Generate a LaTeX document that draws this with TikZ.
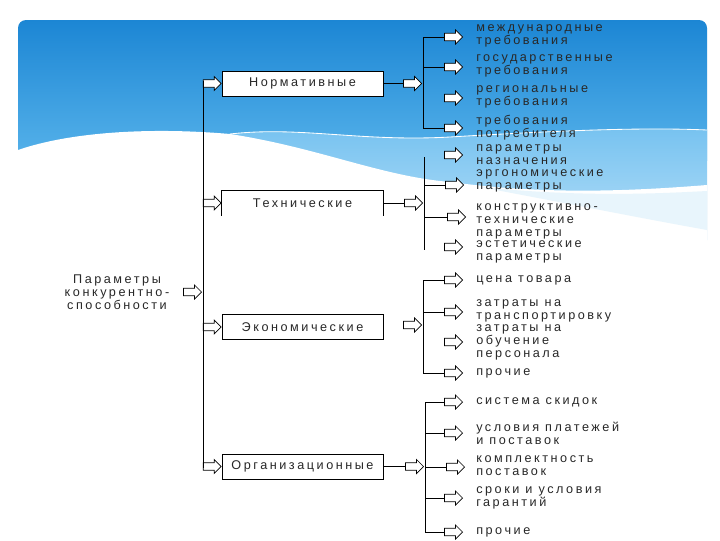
\documentclass[tikz,border=0pt]{standalone}
\usepackage{fontspec}
\newfontfamily\rusfont{Liberation Sans}[LetterSpace=20]
\usetikzlibrary{shapes.arrows}
\definecolor{skytop}{RGB}{28,134,212}
\definecolor{skybot}{RGB}{86,178,234}
\definecolor{bandtop}{RGB}{118,194,240}
\definecolor{bandbot}{RGB}{180,222,247}
\definecolor{haze}{RGB}{232,245,252}
\definecolor{ink}{RGB}{40,40,40}
\tikzstyle{category} = [rectangle, 
minimum width=4.025cm, 
minimum height=0.625cm, 
text centered, 
draw=black, 
fill=white,
text=ink,
font=\rusfont\fontsize{9}{9.3}\selectfont]
\tikzstyle{leaf} = [anchor=west, 
align=left, 
inner sep=0pt, 
text=ink,
font=\rusfont\fontsize{9}{9.3}\selectfont]
\tikzstyle{blk} = [single arrow, 
draw=black, 
fill=white, 
line width=0.5pt,
inner xsep=0pt, 
inner ysep=0.085cm,
single arrow head extend=0.08cm,
minimum height=0.45cm,
anchor=tip]
\tikzstyle{link} = [line width=0.6pt]

\begin{document}
\begin{tikzpicture}[x=0.025cm, y=-0.025cm]
            \useasboundingbox (0,0) rectangle (720,540);
            % slide background
            \fill[white] (0,0) rectangle (720,540);
            \begin{scope}
                \clip[rounded corners=0.2cm] (18,20) rectangle (707,580);
                \shade[top color=skytop, bottom color=skybot] (18,20) rectangle (707,160);
                \shade[top color=bandtop, bottom color=bandbot] (230,134) .. controls (300,126) and (360,142) .. (450,137) .. controls (550,131) and (640,127) .. (707,130) -- (707,240) -- (230,240) -- cycle;
                \fill[white] (18,150) .. controls (70,132) and (150,127) .. (230,134) .. controls (320,148) and (380,176) .. (450,182) .. controls (540,194) and (620,192) .. (707,185) -- (707,580) -- (18,580) -- cycle;
                \fill[haze] (480,187) .. controls (580,197) and (650,194) .. (707,191) -- (707,230) .. controls (640,218) and (560,202) .. (480,187) -- cycle;
                \draw[white, line width=0.6pt] (230,134) .. controls (300,126) and (360,142) .. (450,137) .. controls (550,131) and (640,127) .. (707,130);
            \end{scope}

            % first level
            \node (title) [leaf, anchor=center, align=center] at (117,292) {Параметры\\конкурентно-\\способности};
            \node (norm) [category] at (302.5,83.5) {Нормативные};
            \node (tech) [category, draw=none, fill=none] at (302.5,203) {Технические};
            \node (econ) [category] at (302.5,327) {Экономические};
            \node (org) [category] at (302.5,466.5) {Организационные};

            % second level
            \node (n1) [leaf] at (476,36) {международные\\требования};
            \node (n2) [leaf] at (476,66) {государственные\\требования};
            \node (n3) [leaf] at (476,97) {региональные\\требования};
            \node (n4) [leaf] at (476,128) {требования\\потребителя};
            \node (t1) [leaf] at (476,155) {параметры\\назначения};
            \node (t2) [leaf] at (476,181) {эргономические\\параметры};
            \node (t3) [leaf] at (476,221) {конструктивно-\\технические\\параметры};
            \node (t4) [leaf] at (476,252) {эстетические\\параметры};
            \node (e1) [leaf] at (476,280) {цена товара};
            \node (e2) [leaf] at (476,311) {затраты на\\транспортировку};
            \node (e3) [leaf] at (476,342) {затраты на\\обучение\\персонала};
            \node (e4) [leaf] at (476,373) {прочие};
            \node (o1) [leaf] at (476,402) {система скидок};
            \node (o2) [leaf] at (476,433) {условия платежей\\и поставок};
            \node (o3) [leaf] at (476,466) {комплектность\\поставок};
            \node (o4) [leaf] at (476,498) {сроки и условия\\гарантий};
            \node (o5) [leaf] at (476,532) {прочие};

            % buses
            \coordinate (mtop) at (203,81);
            \coordinate (mbot) at (203,468);
            \coordinate (ntop) at (423,37);
            \coordinate (nbot) at (423,128);
            \coordinate (ttop) at (424,157);
            \coordinate (tbot) at (424,250);
            \coordinate (etop) at (423,280);
            \coordinate (ebot) at (423,373);
            \coordinate (otop) at (425,402);
            \coordinate (obot) at (425,532);

            % block arrows
            \node (atitle) [blk] at (202,292) {};
            \node (anorm) [blk] at (norm.west) {};
            \node (atech) [blk] at (tech.west) {};
            \node (aecon) [blk] at (econ.west) {};
            \node (aorg) [blk] at (org.west) {};
            \node (anorm2) [blk] at (422,83.5) {};
            \node (atech2) [blk] at (423,203) {};
            \node (aecon2) [blk] at (422,325) {};
            \node (aorg2) [blk] at (424,466.5) {};
            \node (an1) [blk] at (463,37) {};
            \node (an2) [blk] at (463,67) {};
            \node (an3) [blk] at (463,98) {};
            \node (an4) [blk] at (463,128) {};
            \node (at1) [blk] at (463,155) {};
            \node (at2) [blk] at (464,185) {};
            \node (at3) [blk] at (466,217) {};
            \node (at4) [blk] at (463,247) {};
            \node (ae1) [blk] at (463,280) {};
            \node (ae2) [blk] at (463,312) {};
            \node (ae3) [blk] at (463,342) {};
            \node (ae4) [blk] at (463,373) {};
            \node (ao1) [blk] at (463,402) {};
            \node (ao2) [blk] at (463,433) {};
            \node (ao3) [blk] at (465,467) {};
            \node (ao4) [blk] at (463,498) {};
            \node (ao5) [blk] at (463,532) {};

            % box with open bottom
            \draw [link] (tech.south west) -- (tech.north west) -- (tech.north east) -- (tech.south east);

            \draw [link] (mtop) -- (mbot);
            \draw [link] (norm.west -| mtop) -- (anorm.tail);
            \draw [link] (tech.west -| mtop) -- (atech.tail);
            \draw [link] (econ.west -| mtop) -- (aecon.tail);
            \draw [link] (org.west -| mtop) -- (aorg.tail);

            \draw [link] (norm.east) -- (anorm2.tail);
            \draw [link] (tech.east) -- (atech2.tail);
            \draw [link] (org.east) -- (aorg2.tail);

            \draw [link] (ntop) -- (nbot);
            \draw [link] (ntop) -- (an1.tail);
            \draw [link] (an2.tail -| ntop) -- (an2.tail);
            \draw [link] (nbot) -- (an4.tail);

            \draw [link] (ttop) -- (tbot);
            \draw [link] (at2.tail -| ttop) -- (at2.tail);
            \draw [link] (at3.tail -| ttop) -- (at3.tail);

            \draw [link] (etop) -- (ebot);
            \draw [link] (etop) -- (ae1.tail);
            \draw [link] (ae2.tail -| etop) -- (ae2.tail);
            \draw [link] (ebot) -- (ae4.tail);

            \draw [link] (otop) -- (obot);
            \draw [link] (otop) -- (ao1.tail);
            \draw [link] (ao2.tail -| otop) -- (ao2.tail);
            \draw [link] (ao3.tail -| otop) -- (ao3.tail);
            \draw [link] (ao4.tail -| otop) -- (ao4.tail);
            \draw [link] (obot) -- (ao5.tail);
        \end{tikzpicture}
\end{document}
